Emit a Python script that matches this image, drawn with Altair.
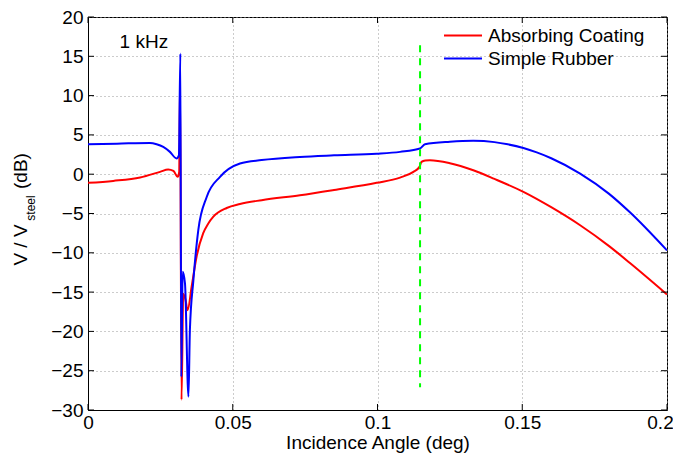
import altair as alt
import pandas as pd

series_names = ["Absorbing Coating", "Simple Rubber"]
series_colors = ["#ff0000", "#0000ff"]

red_x = [0, 0.0087, 0.018, 0.0249, 0.0277, 0.0295, 0.031, 0.0315, 0.0318, 0.0323,
         0.0329, 0.0337, 0.0344, 0.0358, 0.0375, 0.0398, 0.0415, 0.0433, 0.0479, 0.0525,
         0.06, 0.0732, 0.085, 0.0997, 0.1078, 0.1124, 0.1145, 0.1152, 0.1165, 0.1181,
         0.125, 0.1331, 0.1404, 0.1504, 0.16, 0.17, 0.18, 0.1872, 0.2]
red_y = [-1.1, -0.85, -0.42, 0.3, 0.6, 0.42, -0.34, 0.3, 12.0, -28.7,
         -15.2, -16.0, -17.3, -14.3, -10.5, -7.5, -6.3, -5.4, -4.3, -3.8,
         -3.3, -2.67, -2.0, -1.1, -0.43, 0.3, 0.93, 1.57, 1.75, 1.78,
         1.4, 0.5, -0.6, -2.25, -4.2, -6.5, -9.15, -11.3, -15.3]

blue_x = [0, 0.01, 0.0214, 0.0237, 0.026, 0.0283, 0.0306, 0.0314, 0.0319, 0.03223,
          0.0327, 0.0335, 0.0347, 0.0352, 0.0364, 0.0381, 0.041, 0.0456, 0.0525, 0.06,
          0.0732, 0.085, 0.0997, 0.1078, 0.1147, 0.1164, 0.125, 0.1331, 0.1404, 0.145,
          0.1504, 0.155, 0.16, 0.17, 0.18, 0.1872, 0.2]
blue_y = [3.8, 3.88, 3.98, 3.82, 3.47, 2.84, 2.0, 2.4, 15.35, -25.8,
          -12.4, -13.9, -28.3, -19.8, -13.5, -7.1, -2.9, -0.34, 1.36, 1.8,
          2.2, 2.4, 2.6, 2.84, 3.27, 3.8, 4.12, 4.24, 4.08, 3.8,
          3.33, 2.77, 2.03, 0.08, -2.5, -4.85, -9.7]

marker_x = [0.1147]
marker_top = [16.4]
marker_bottom = [-27.1]

x_ticks = [0, 0.05, 0.1, 0.15, 0.2]
y_ticks = [-30, -25, -20, -15, -10, -5, 0, 5, 10, 15, 20]

note_text = ["1 kHz"]
note_x = [0.0193]
note_y = [16.86]

rows = []
for name, xs, ys in [(series_names[0], red_x, red_y), (series_names[1], blue_x, blue_y)]:
    for a, v in zip(xs, ys):
        rows.append({"series": name, "angle": a, "value": v})
df = pd.DataFrame(rows)

FONT = "Liberation Sans"
FS = 19
W, H = 579, 393

xscale = alt.Scale(domain=[0, 0.2], nice=False, zero=False)
yscale = alt.Scale(domain=[-30, 20], nice=False, zero=False)

xaxis = alt.Axis(values=x_ticks, format="~g", title="Incidence Angle (deg)",
                 grid=True, ticks=False, labelPadding=3, titlePadding=1,
                 labelFlush=False, labelOverlap=False,
                 labelOffset={"condition": {"test": "datum.value >= 0.2", "value": -7},
                              "value": 0})
yaxis = alt.Axis(values=y_ticks, format="d", title=None, grid=True, ticks=False,
                 labelPadding=5, labelFlush=False, labelOverlap=False)

lines = alt.Chart(df).mark_line(strokeWidth=2, interpolate="monotone", clip=True).encode(
    x=alt.X("angle:Q", scale=xscale, axis=xaxis, title="Incidence Angle (deg)"),
    y=alt.Y("value:Q", scale=yscale, axis=yaxis, title=None),
    color=alt.Color("series:N",
                    scale=alt.Scale(domain=series_names, range=series_colors),
                    legend=alt.Legend(title=None, orient="none", legendX=364.5, legendY=8,
                                      symbolType="M-2,0H2", symbolSize=361,
                                      symbolStrokeWidth=2, labelFontSize=FS,
                                      labelFont=FONT, labelColor="black",
                                      labelOffset=14.5, rowPadding=2, padding=0)),
)

ydf = pd.DataFrame({"value": y_ticks})
xdf = pd.DataFrame({"angle": x_ticks})

left_ticks = alt.Chart(ydf).mark_rule(color="black", strokeWidth=1).encode(
    y=alt.Y("value:Q", scale=yscale, axis=yaxis, title=None), x=alt.value(0), x2=alt.value(6))
right_ticks = alt.Chart(ydf).mark_rule(color="black", strokeWidth=1).encode(
    y=alt.Y("value:Q", scale=yscale, axis=yaxis, title=None), x=alt.value(W - 6), x2=alt.value(W))
bottom_ticks = alt.Chart(xdf).mark_rule(color="black", strokeWidth=1).encode(
    x=alt.X("angle:Q", scale=xscale, axis=xaxis, title="Incidence Angle (deg)"),
    y=alt.value(H), y2=alt.value(H - 6))
top_ticks = alt.Chart(xdf).mark_rule(color="black", strokeWidth=1).encode(
    x=alt.X("angle:Q", scale=xscale, axis=xaxis, title="Incidence Angle (deg)"),
    y=alt.value(0), y2=alt.value(6))

mdf = pd.DataFrame({"angle": marker_x, "value": marker_top, "value2": marker_bottom})
marker = alt.Chart(mdf).mark_rule(color="#00ff00", strokeWidth=2, strokeDash=[7, 6]).encode(
    x=alt.X("angle:Q", scale=xscale, axis=xaxis, title="Incidence Angle (deg)"),
    y=alt.Y("value:Q", scale=yscale, axis=yaxis, title=None),
    y2="value2:Q",
)

ndf = pd.DataFrame({"t": note_text, "angle": note_x, "value": note_y})
note = alt.Chart(ndf).mark_text(font=FONT, fontSize=FS, color="black",
                                align="center", baseline="middle").encode(
    x=alt.X("angle:Q", scale=xscale, axis=xaxis, title="Incidence Angle (deg)"),
    y=alt.Y("value:Q", scale=yscale, axis=yaxis, title=None),
    text="t:N",
)

one = pd.DataFrame({"k": [0]})
yt1 = alt.Chart(one).mark_text(font=FONT, fontSize=FS, color="black", angle=270,
                               align="center", baseline="middle").encode(
    x=alt.value(-67), y=alt.value(228), text=alt.value("V / V"))
yt2 = alt.Chart(one).mark_text(font=FONT, fontSize=12, color="black", angle=270,
                               align="center", baseline="middle").encode(
    x=alt.value(-57), y=alt.value(191), text=alt.value("steel"))
yt3 = alt.Chart(one).mark_text(font=FONT, fontSize=FS, color="black", angle=270,
                               align="center", baseline="middle").encode(
    x=alt.value(-67), y=alt.value(154), text=alt.value("(dB)"))

chart = alt.layer(
    lines, left_ticks, right_ticks, bottom_ticks, top_ticks, marker, note, yt1, yt2, yt3
).properties(
    width=W, height=H,
    autosize=alt.AutoSizeParams(type="none"),
    padding={"left": 80, "top": 9, "right": 6, "bottom": 45},
).configure_view(
    stroke="black", strokeWidth=1
).configure_axis(
    domainColor="black", domainWidth=1,
    labelFont=FONT, labelFontSize=FS, labelColor="black",
    titleFont=FONT, titleFontSize=FS, titleColor="black", titleFontWeight="normal",
    gridColor="#999999", gridDash=[1, 3], gridWidth=1, gridOpacity=1,
)

chart.save("out.html", embed_options={"renderer": "svg", "actions": False})
